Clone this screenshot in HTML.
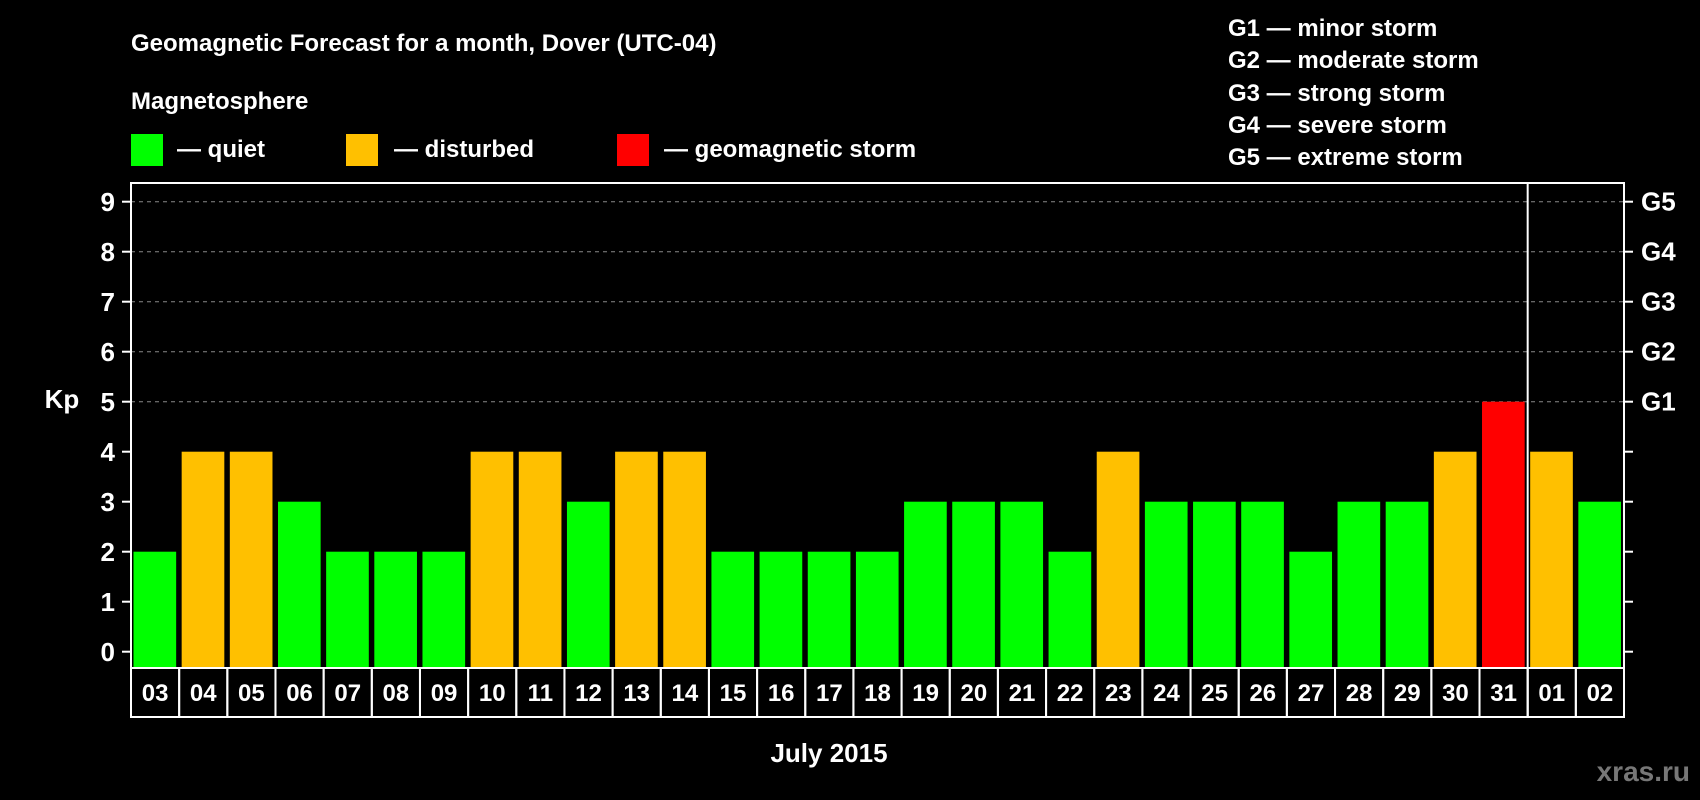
<!DOCTYPE html>
<html><head><meta charset="utf-8"><style>
html,body{margin:0;padding:0;background:#000;width:1700px;height:800px;overflow:hidden}
svg{display:block;font-family:"Liberation Sans",Arial,sans-serif;font-weight:bold}
</style></head><body>
<svg id="chart" width="1700" height="800" viewBox="0 0 1700 800">
<text x="131" y="51" fill="#fff" font-size="24">Geomagnetic Forecast for a month, Dover (UTC-04)</text>
<text x="131" y="109" fill="#fff" font-size="24">Magnetosphere</text>
<g><rect x="131" y="134" width="32" height="32" fill="#00ff00"/><text x="177" y="157" fill="#fff" font-size="24">— quiet</text></g>
<g><rect x="346" y="134" width="32" height="32" fill="#ffc000"/><text x="394" y="157" fill="#fff" font-size="24">— disturbed</text></g>
<g><rect x="617" y="134" width="32" height="32" fill="#ff0000"/><text x="664" y="157" fill="#fff" font-size="24">— geomagnetic storm</text></g>
<g fill="#fff" font-size="24">
<text x="1228" y="36">G1 — minor storm</text>
<text x="1228" y="68">G2 — moderate storm</text>
<text x="1228" y="101">G3 — strong storm</text>
<text x="1228" y="133">G4 — severe storm</text>
<text x="1228" y="165">G5 — extreme storm</text>
</g>
<text x="62" y="408" fill="#fff" font-size="26" text-anchor="middle">Kp</text>
<text x="829" y="762" fill="#fff" font-size="26" text-anchor="middle">July 2015</text>
<text x="1690" y="781" fill="#777" font-size="28" text-anchor="end">xras.ru</text>
<g id="plot"></g>
</svg>
<script>
const days = ["03","04","05","06","07","08","09","10","11","12","13","14","15","16","17","18","19","20","21","22","23","24","25","26","27","28","29","30","31","01","02"];
const kp = [2,4,4,3,2,2,2,4,4,3,4,4,2,2,2,2,3,3,3,2,4,3,3,3,2,3,3,4,5,4,3];
const yTicks = [0,1,2,3,4,5,6,7,8,9];
const gLabels = ["G1","G2","G3","G4","G5"];
const gLevels = [5,6,7,8,9];
const monthEndIndex = 29;

const L=131,R=1624,T=183,B=668,LB=717;
const colW=(R-L)/days.length;
const x=i=>L+i*colW;
const y=v=>651.7-v*50;
const ns="http://www.w3.org/2000/svg";
const g=document.getElementById('plot');
function mk(tag,attrs){const e=document.createElementNS(ns,tag);for(const k in attrs)e.setAttribute(k,attrs[k]);g.appendChild(e);return e;}

gLevels.forEach((v,i)=>{
  const ln=mk('line',{x1:L,x2:R,y1:y(v),y2:y(v),stroke:'#888','stroke-width':1,'stroke-dasharray':'4,4'});
  
  
  const t=mk('text',{x:1641,y:y(v)+9,fill:'#fff','font-size':26});
  t.textContent=gLabels[i];
  
  
});
yTicks.forEach(v=>{
  const a=mk('line',{x1:L-9,x2:L,y1:y(v),y2:y(v),stroke:'#fff','stroke-width':2});
  
  
  const b=mk('line',{x1:R,x2:R+9,y1:y(v),y2:y(v),stroke:'#fff','stroke-width':2});
  
  
  const t=mk('text',{x:115,y:y(v)+9.5,fill:'#fff','font-size':26,'text-anchor':'end'});
  t.textContent=v;
  
  
});
kp.forEach((v,i)=>{
  const c=v>=5?'#ff0000':(v>=4?'#ffc000':'#00ff00');
  const r=mk('rect',{x:x(i)+2.5,y:y(v),width:colW-5.5,height:B-y(v),fill:c});
  
  
  const c2=mk('rect',{x:x(i),y:B,width:colW,height:LB-B,fill:'none',stroke:'#fff','stroke-width':2});
  
  
  const t=mk('text',{x:x(i)+colW/2,y:701,fill:'#fff','font-size':24,'text-anchor':'middle'});
  t.textContent=days[i];
  
  
});
const fr=mk('rect',{x:L,y:T,width:R-L,height:B-T,fill:'none',stroke:'#fff','stroke-width':2});


const ml=mk('line',{x1:x(monthEndIndex),x2:x(monthEndIndex),y1:T,y2:LB,stroke:'#fff','stroke-width':2});


</script>
</body></html>
